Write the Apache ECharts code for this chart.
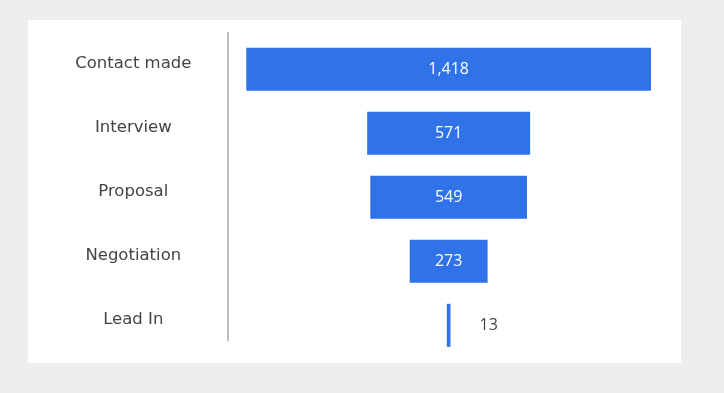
<!DOCTYPE html>
<html>
<head>
<meta charset="utf-8">
<script src="https://cdn.jsdelivr.net/npm/echarts@6/dist/echarts.min.js"></script>
<style>
html,body{margin:0;padding:0;background:#edeef0;}
#card{position:absolute;left:28px;top:20px;width:653px;height:343px;background:#fff;}
#chart{position:absolute;left:0;top:0;width:724px;height:393px;}
</style>
</head>
<body>
<div id="card"></div>
<div id="chart"></div>
<script>
const categories = ['Contact made', 'Interview', 'Proposal', 'Negotiation', 'Lead In'];
const values = [1418, 571, 549, 273, 13];
const smallLabelCategories = ['Lead In'];

const maxValue = Math.max(...values);
const offsets = values.map(v => (maxValue - v) / 2);
const FONT = '"Open Sans", sans-serif';
const LABEL_FONT = '"DejaVu Sans", sans-serif';

const chart = echarts.init(document.getElementById('chart'), null, {renderer: 'canvas'});
chart.setOption({
  backgroundColor: 'transparent',
  animation: false,
  grid: {left: 246.3, right: 73, top: 37.3, height: 320, containLabel: false},
  xAxis: {type: 'value', min: 0, max: maxValue, show: false},
  yAxis: {
    type: 'category', data: categories, inverse: true,
    axisLine: {show: false}, axisTick: {show: false}, splitLine: {show: false},
    axisLabel: {align: 'center', verticalAlign: 'bottom', lineHeight: 12, margin: 113,
      color: '#444', fontSize: 16.5, fontFamily: LABEL_FONT}
  },
  graphic: [{
    type: 'line', shape: {x1: 228, y1: 32, x2: 228, y2: 341},
    style: {stroke: '#bdbdbd', lineWidth: 2}, silent: true
  }],
  series: [
    {
      type: 'bar', stack: 'funnel', data: offsets, barWidth: 43, silent: true,
      itemStyle: {color: 'transparent'}
    },
    {
      type: 'bar', stack: 'funnel', barWidth: 43,
      itemStyle: {color: '#3072e8'},
      data: values.map((v, i) => smallLabelCategories.includes(categories[i]) ? {
        value: v,
        label: {position: 'right', distance: 29, color: '#444'}
      } : v),
      label: {
        show: true, position: 'inside', color: '#fff', fontSize: 16, fontFamily: FONT,
        formatter: p => p.value.toLocaleString('en-US')
      }
    }
  ]
});
</script>
</body>
</html>
